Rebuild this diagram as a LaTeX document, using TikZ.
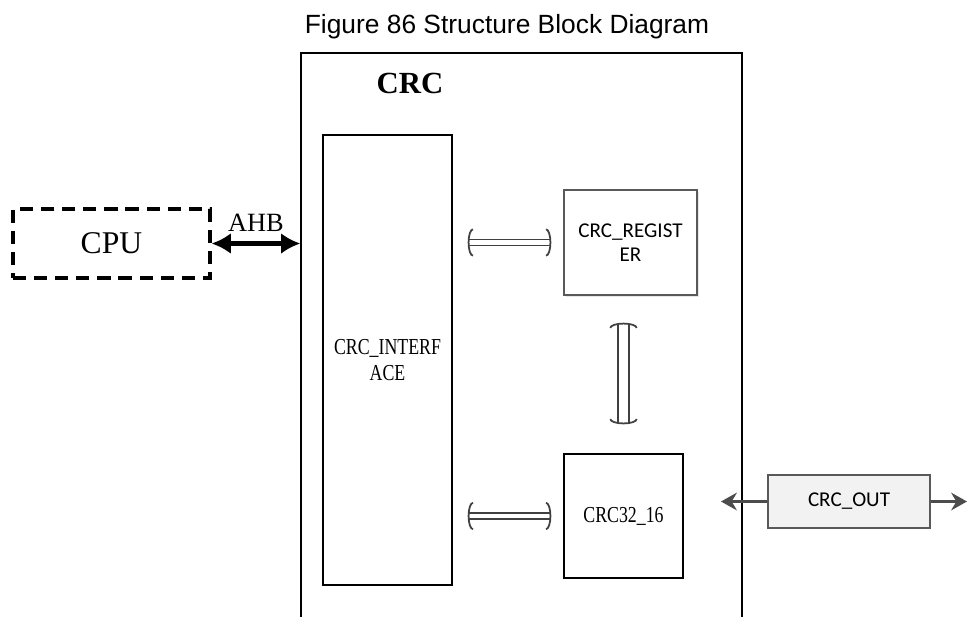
\documentclass[tikz,border=0pt]{standalone}
\usepackage{fontspec}
\setmainfont{Liberation Serif}
\newfontfamily\titlefont{Liberation Sans}
\newfontfamily\calfont{Carlito}
\newfontfamily\simfont[FakeStretch=0.78]{Liberation Serif}
\usetikzlibrary{arrows.meta,shadows}
\newcommand\busline[3][2.6pt]{%
  \draw[buswire, double distance=#1] #2 -- #3;
  \draw[bustip] #2 -- #3;}
\begin{document}
\begin{tikzpicture}[
  x=0.02cm, y=-0.02cm,
  block/.style={draw, line width=0.8pt, inner sep=0pt, align=center},
  greybox/.style={block, draw=black!65},
  simtext/.style={font=\simfont\fontsize{13pt}{15pt}\selectfont},
  caltext/.style={font=\calfont\fontsize{12pt}{14pt}\selectfont},
  buswire/.style={draw=black!75, double=white, line width=0.8pt, shorten <=0.8pt, shorten >=0.8pt},
  bustip/.style={draw=white, line width=0.3pt,
    {Arc Barb[width=16pt,length=3pt,color=black!75,line width=1pt]}-{Arc Barb[width=16pt,length=3pt,color=black!75,line width=1pt]}},
  ahb/.style={line width=2.6pt, {Latex[length=11pt,width=12pt]}-{Latex[length=11pt,width=12pt]}},
  outwire/.style={draw=black!70, line width=2pt, -{Stealth[length=9pt,width=10pt]}}
]
\useasboundingbox (0,0) rectangle (967,616);
\clip (0,0) rectangle (967,616);
\node (title) at (507,27) {\titlefont\fontsize{15pt}{18pt}\selectfont Figure 86 Structure Block Diagram};
\node[block, minimum width=8.82cm, minimum height=12.14cm] (crc) at (521.5,356.5) {};
\node (crclabel) at (410,83) {\fontsize{17.5pt}{20pt}\selectfont\bfseries CRC};
\node[block, simtext, minimum width=2.58cm, minimum height=9cm] (iface) at (387.5,360) {CRC\_INTERF\\ACE};
\node[greybox, caltext, minimum width=2.66cm, minimum height=2.1cm, fill=white,
  drop shadow={shadow xshift=1.2pt, shadow yshift=-1.2pt, opacity=0.2}] (reg) at (630.5,242.5) {CRC\_REGIST\\ER};
\node[block, simtext, minimum width=2.38cm, minimum height=2.48cm] (c32) at (623.5,516) {CRC32\_16};
\node[block, line width=1.8pt, dash pattern=on 7.5pt off 4.5pt, minimum width=3.94cm, minimum height=1.38cm,
  font=\fontsize{18pt}{20pt}\selectfont] (cpu) at (111.5,243.5) {CPU};
\node[greybox, caltext, fill=black!5, minimum width=3.24cm, minimum height=1.06cm] (crcout) at (849,501.5) {CRC\_OUT};
\coordinate (outl) at (721,501.5);
\coordinate (outr) at (967,501.5);
\draw[ahb] (cpu.east) -- (cpu.east -| crc.west) node[midway, above=2pt, font=\fontsize{15pt}{17pt}\selectfont] {AHB};
\busline{([xshift=0.3cm]iface.east |- reg.west)}{([xshift=-0.24cm]reg.west)}
\busline{([xshift=0.3cm]iface.east |- c32.west)}{([xshift=-0.24cm]c32.west)}
\busline[5.5pt]{([yshift=-0.54cm]reg.south -| c32.north)}{([yshift=0.58cm]c32.north)}
\draw[outwire] (crcout.west) -- (outl);
\draw[outwire] (crcout.east) -- (outr);
\end{tikzpicture}
\end{document}
